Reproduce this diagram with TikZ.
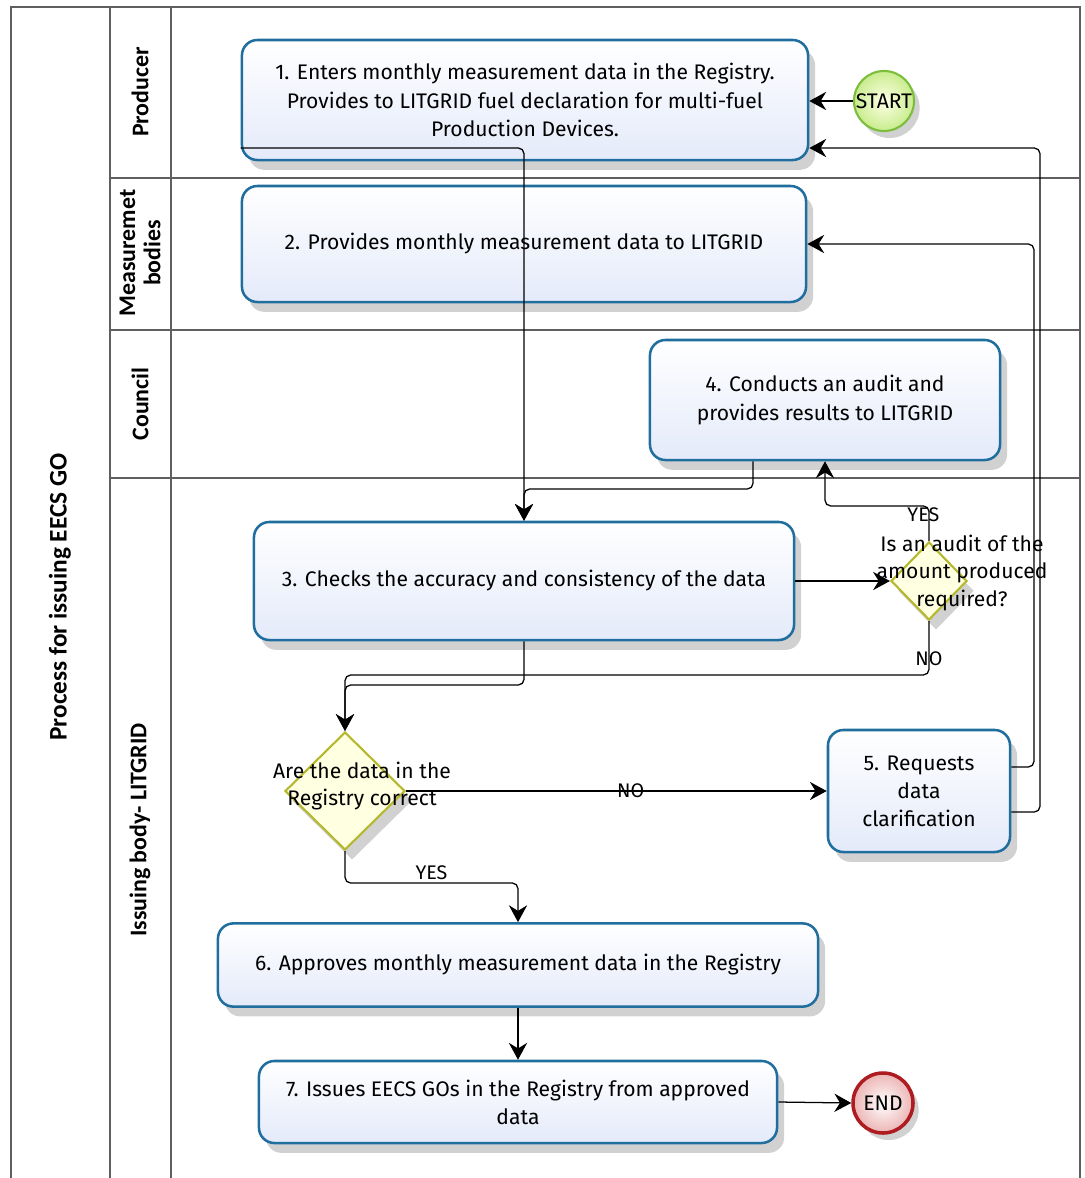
\documentclass[tikz,border=0pt]{standalone}
\usepackage{fontspec}
\setmainfont{Fira Sans}
\newfontfamily\lanefont{Carlito}
\usetikzlibrary{arrows.meta,shapes.geometric,shadows}

\definecolor{taskblue}{RGB}{31,110,158}
\definecolor{taskfill}{RGB}{228,234,250}
\definecolor{gateline}{RGB}{181,184,44}
\definecolor{gatefill}{RGB}{255,255,226}
\definecolor{startline}{RGB}{124,190,60}
\definecolor{startfill}{RGB}{200,236,140}
\definecolor{endline}{RGB}{172,28,32}
\definecolor{endfill}{RGB}{236,180,180}
\definecolor{poolline}{RGB}{95,95,95}

\begin{document}
\begin{tikzpicture}[x=0.025cm,y=-0.025cm,->,>={Stealth[length=12pt,width=13pt,inset=4pt]},line width=0.9pt]
  \tikzstyle{task}=[rectangle,rounded corners=11pt,draw=taskblue,line width=1.8pt,top color=white,bottom color=taskfill,
                    align=center,font=\fontsize{15}{20}\selectfont,
                    drop shadow={shadow xshift=5pt,shadow yshift=-7pt,fill=black!40,opacity=.45}]
  \tikzstyle{gate}=[diamond,draw=gateline,line width=1.5pt,fill=gatefill,inner sep=0pt,
                    drop shadow={shadow xshift=5pt,shadow yshift=-7pt,fill=black!40,opacity=.45}]
  \tikzstyle{gatetxt}=[align=center,font=\fontsize{15}{19.5}\selectfont,inner sep=0pt]
  \tikzstyle{event}=[circle,minimum size=1.5cm,inner sep=0pt,font=\fontsize{15}{18}\selectfont,
                     drop shadow={shadow xshift=4pt,shadow yshift=-5pt,fill=black!40,opacity=.45}]
  \tikzstyle{lane}=[rotate=90,align=center,font=\lanefont\bfseries\fontsize{17}{18}\selectfont]
  \tikzstyle{lbl}=[font=\fontsize{14}{16}\selectfont,inner sep=1pt]
  \tikzstyle{flow}=[rounded corners=4pt]
  \tikzstyle{swim}=[-,draw=poolline,line width=1.1pt]

  \useasboundingbox (0,0) rectangle (1085,1178);

  % pool and lanes
  \draw[swim,line width=2pt] (11,1178) -- (11,7) -- (1080,7) -- (1080,1178);
  \draw[swim] (110,7) -- (110,1178);
  \draw[swim] (171,7) -- (171,1178);
  \foreach \y in {178,330,478}
    \draw[swim] (110,\y) -- (1080,\y);

  \node[lane,font=\lanefont\bfseries\fontsize{18}{20}\selectfont] (pool) at (60,597) {Process for issuing EECS GO};
  \node[lane] (lprod) at (140,92)  {Producer};
  \node[lane] (lmeas) at (140,253) {Measuremet\\bodies};
  \node[lane] (lcoun) at (140,404) {Council};
  \node[lane] (liss)  at (140,830) {Issuing body- LITGRID};

  % activities
  \node[task,minimum width=14.15cm,minimum height=3cm]   (t1) at (525,100)
    {1. Enters monthly measurement data in the Registry.\\Provides to LITGRID fuel declaration for multi-fuel\\Production Devices.};
  \node[task,minimum width=14.1cm,minimum height=2.9cm]  (t2) at (524,244)
    {2. Provides monthly measurement data to LITGRID};
  \node[task,minimum width=8.75cm,minimum height=3cm]    (t4) at (825,400)
    {4. Conducts an audit and\\provides results to LITGRID};
  \node[task,minimum width=13.5cm,minimum height=2.95cm] (t3) at (524,581)
    {3. Checks the accuracy and consistency of the data};
  \node[task,minimum width=4.55cm,minimum height=3.05cm] (t5) at (919,791)
    {5. Requests\\data\\clarification};
  \node[task,minimum width=15cm,minimum height=2.08cm]   (t6) at (518,965)
    {6. Approves monthly measurement data in the Registry};
  \node[task,minimum width=12.95cm,minimum height=2.05cm] (t7) at (518,1102)
    {7. Issues EECS GOs in the Registry from approved\\data};

  % gateways
  \node[gate,minimum width=1.9cm,minimum height=1.95cm] (aud) at (929,581) {};
  \node[gate,minimum width=3cm,minimum height=2.95cm]   (chk) at (345,791) {};

  % events
  \node[event,draw=startline,line width=1.5pt,inner color=white!70!yellow!30,outer color=startfill] (start) at (884,101) {START};
  \node[event,draw=endline,line width=2.5pt,inner color=white,outer color=endfill] (end) at (883,1103) {END};

  % flows
  \draw[flow] (start.west) -- (t1.east |- start.west);
  \draw[flow] (t1.west |- 0,148) -- (524,148) -- (t3.north);
  \draw[flow] (t4.south -| 753,0) |- (524,489) -- (t3.north);
  \draw[flow] (t3.east) -- (aud.west);
  \draw[flow] (aud.north) -- node[lbl,pos=.75,xshift=-4pt] {YES} ++(0,-35) -| (t4.south -| 825,0);
  \draw[flow] (aud.south) -- node[lbl,pos=.7] {NO} (929,675) -| (chk.north);
  \draw[flow] (t3.south) -- (524,685) -| (chk.north);
  \draw[flow] (chk.east) -- node[lbl,pos=.534] {NO} (t5.west);
  \draw[flow] (chk.south) -- (345,883) -| node[lbl,pos=.25,above=1pt] {YES} (t6.north);
  \draw[flow] (t5.east |- 0,812) -- (1040,812) |- (t1.east |- 0,148);
  \draw[flow] (t5.east |- 0,767) -- (1034,767) |- (t2.east);
  \draw[flow] (t6.south) -- (t7.north);
  \draw[flow] (t7.east) -- (end.west);

  % question texts
  \node[gatetxt] (audq) at (962,573) {Is an audit of the\\amount produced\\required?};
  \node[gatetxt] (chkq) at (362,786) {Are the data in the\\Registry correct};
\end{tikzpicture}
\end{document}
